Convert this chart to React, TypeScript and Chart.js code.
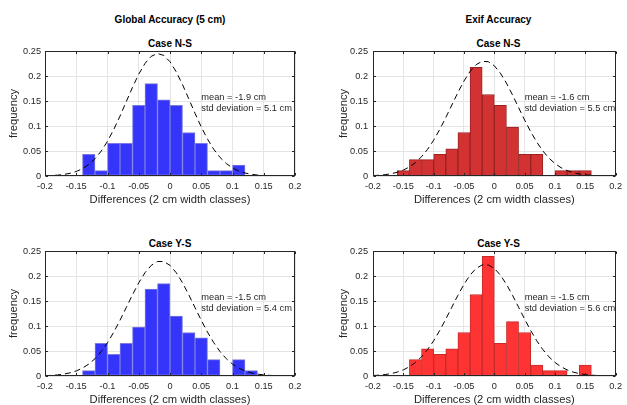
import React, { useEffect, useRef } from "react";
import { Chart, registerables } from "chart.js";

Chart.register(...registerables);

// ---------- data ----------
const binCenters = [
  -0.19, -0.17, -0.15, -0.13, -0.11, -0.09, -0.07, -0.05, -0.03, -0.01,
  0.01, 0.03, 0.05, 0.07, 0.09, 0.11, 0.13, 0.15, 0.17, 0.19,
];

const xTickValues = [-0.2, -0.15, -0.1, -0.05, 0, 0.05, 0.1, 0.15, 0.2];
const xTickLabels = ["-0.2", "-0.15", "-0.1", "-0.05", "0", "0.05", "0.1", "0.15", "0.2"];
const yTickValues = [0, 0.05, 0.1, 0.15, 0.2, 0.25];
const yTickLabels = ["0", "0.05", "0.1", "0.15", "0.2", "0.25"];

const globalNS = [0, 0, 0, 0.0435, 0.0109, 0.0652, 0.0652, 0.1413, 0.1848, 0.1522, 0.1413, 0.087, 0.0652, 0.0109, 0.0109, 0.0217, 0, 0, 0, 0];
const exifNS = [0, 0, 0.0109, 0.0326, 0.0326, 0.0435, 0.0543, 0.087, 0.2174, 0.163, 0.1413, 0.0978, 0.0435, 0.0435, 0, 0.0109, 0.0109, 0.0109, 0, 0];
const globalYS = [0, 0, 0, 0.0109, 0.0652, 0.0435, 0.0652, 0.0978, 0.1739, 0.1848, 0.1196, 0.087, 0.0761, 0.0326, 0, 0.0326, 0.0109, 0, 0, 0];
const exifYS = [0, 0, 0, 0.0326, 0.0543, 0.0435, 0.0543, 0.087, 0.163, 0.2391, 0.0652, 0.1087, 0.087, 0.0217, 0.0109, 0.0109, 0, 0.0217, 0, 0];

const curveX = [
  -0.2, -0.19, -0.18, -0.17, -0.16, -0.15, -0.14, -0.13, -0.12, -0.11, -0.1,
  -0.09, -0.08, -0.07, -0.06, -0.05, -0.04, -0.03, -0.02, -0.01, 0,
  0.01, 0.02, 0.03, 0.04, 0.05, 0.06, 0.07, 0.08, 0.09, 0.1,
  0.11, 0.12, 0.13, 0.14, 0.15, 0.16, 0.17, 0.18, 0.19, 0.2,
];
const curveGlobalNS = [0.0005, 0.0009, 0.0017, 0.0031, 0.0054, 0.009, 0.0147, 0.0229, 0.0345, 0.0499, 0.0694, 0.093, 0.1198, 0.1486, 0.1774, 0.2037, 0.2251, 0.2394, 0.245, 0.2412, 0.2286, 0.2084, 0.1829, 0.1544, 0.1255, 0.0981, 0.0738, 0.0534, 0.0372, 0.025, 0.0161, 0.01, 0.006, 0.0034, 0.0019, 0.001, 0.0005, 0.0003, 0.0001, 0.0001, 0.0];
const curveExifNS = [0.0009, 0.0015, 0.0027, 0.0046, 0.0075, 0.0118, 0.0181, 0.0268, 0.0385, 0.0534, 0.0716, 0.093, 0.1169, 0.142, 0.167, 0.19, 0.2091, 0.2227, 0.2294, 0.2286, 0.2205, 0.2057, 0.1857, 0.1621, 0.137, 0.112, 0.0886, 0.0677, 0.0501, 0.0359, 0.0249, 0.0167, 0.0108, 0.0068, 0.0041, 0.0024, 0.0014, 0.0008, 0.0004, 0.0002, 0.0001];
const curveGlobalYS = [0.0007, 0.0012, 0.0022, 0.0037, 0.0063, 0.0101, 0.0158, 0.0238, 0.0347, 0.0489, 0.0666, 0.0877, 0.1115, 0.1369, 0.1625, 0.1864, 0.2066, 0.2213, 0.229, 0.229, 0.2213, 0.2066, 0.1864, 0.1625, 0.1369, 0.1115, 0.0877, 0.0666, 0.0489, 0.0347, 0.0238, 0.0158, 0.0101, 0.0063, 0.0037, 0.0022, 0.0012, 0.0007, 0.0003, 0.0002, 0.0001];
const curveExifYS = [0.0009, 0.0017, 0.0029, 0.0048, 0.0078, 0.0122, 0.0185, 0.0271, 0.0384, 0.0529, 0.0705, 0.091, 0.1137, 0.1377, 0.1615, 0.1834, 0.2018, 0.2152, 0.2221, 0.2221, 0.2152, 0.2018, 0.1834, 0.1615, 0.1377, 0.1137, 0.091, 0.0705, 0.0529, 0.0384, 0.0271, 0.0185, 0.0122, 0.0078, 0.0048, 0.0029, 0.0017, 0.0009, 0.0005, 0.0003, 0.0001];

const superTitles = ["Global Accuracy (5 cm)", "Exif Accuracy"];
const caseTitles = ["Case N-S", "Case Y-S"];
const meanTexts = ["mean = -1.9 cm", "mean = -1.6 cm", "mean = -1.5 cm", "mean = -1.5 cm"];
const stdTexts = ["std deviation = 5.1 cm", "std deviation = 5.5 cm", "std deviation = 5.4 cm", "std deviation = 5.6 cm"];
const xAxisTitle = "Differences (2 cm width classes)";
const yAxisTitle = "frequency";

// ---------- styles ----------
const FONT = "'Liberation Sans', Arial, Helvetica, sans-serif";
const TEXT = "#262626";

const framePlugin = {
  id: "frameAndText",
  afterDatasetsDraw(chart: any, _args: any, opts: any) {
    const { ctx, chartArea: a, scales } = chart;
    const x = scales.x;
    const y = scales.y;
    ctx.save();
    ctx.strokeStyle = TEXT;
    ctx.lineWidth = 1;
    const L = Math.round(a.left) + 0.5;
    const R = Math.round(a.right) - 0.5;
    const T = Math.round(a.top) + 0.5;
    const B = Math.round(a.bottom) - 0.5;
    ctx.beginPath();
    const tl = 2.5;
    xTickValues.forEach((v) => {
      const px = Math.round(x.getPixelForValue(v)) + 0.5;
      ctx.moveTo(px, B);
      ctx.lineTo(px, B - tl);
      ctx.moveTo(px, T);
      ctx.lineTo(px, T + tl);
    });
    yTickValues.forEach((v) => {
      const py = Math.round(y.getPixelForValue(v)) + 0.5;
      ctx.moveTo(L, py);
      ctx.lineTo(L + tl, py);
      ctx.moveTo(R, py);
      ctx.lineTo(R - tl, py);
    });
    ctx.stroke();
    ctx.strokeRect(L, T, R - L, B - T);

    ctx.fillStyle = TEXT;
    ctx.font = `9.3px ${FONT}`;
    ctx.textAlign = "left";
    ctx.textBaseline = "middle";
    const tx = x.getPixelForValue(opts.textX);
    const ty = y.getPixelForValue(opts.textY);
    ctx.fillText(opts.mean, tx, ty - 5.5);
    ctx.fillText(opts.std, tx, ty + 5.5);
    ctx.restore();
  },
};

type PanelProps = {
  left: number;
  top: number;
  width: number;
  height: number;
  yAxisWidth: number;
  rightPad: number;
  yTitlePad: number;
  yTickPad: number;
  bars: number[];
  curve: number[];
  fill: string;
  edge: string;
  mean: string;
  std: string;
};

function Panel(p: PanelProps) {
  const ref = useRef<HTMLCanvasElement>(null);
  useEffect(() => {
    const chart = new Chart(ref.current as HTMLCanvasElement, {
      type: "bar",
      data: {
        datasets: [
          {
            type: "line",
            data: curveX.map((x, i) => ({ x, y: p.curve[i] })),
            borderColor: "#000000",
            borderWidth: 1,
            borderDash: [6, 4],
            pointRadius: 0,
            fill: false,
            tension: 0,
            order: 0,
          } as any,
          {
            type: "bar",
            data: binCenters.map((x, i) => ({ x, y: p.bars[i] === 0 ? null : p.bars[i] })),
            backgroundColor: p.fill,
            borderColor: p.edge,
            borderWidth: 1,
            borderSkipped: false,
            barPercentage: 1,
            categoryPercentage: 1,
            grouped: false,
            order: 1,
          } as any,
        ],
      },
      options: {
        responsive: false,
        animation: false,
        events: [],
        layout: {
          autoPadding: false,
          padding: { left: 0, right: p.rightPad, top: 51, bottom: 0 },
        },
        plugins: {
          legend: { display: false },
          tooltip: { enabled: false },
          frameAndText: { textX: 0.05, textY: 0.146, mean: p.mean, std: p.std },
        } as any,
        scales: {
          x: {
            type: "linear",
            min: -0.2,
            max: 0.2,
            offset: false,
            afterBuildTicks: (s: any) => {
              s.ticks = xTickValues.map((v) => ({ value: v }));
            },
            afterFit: (s: any) => {
              s.height = 31;
            },
            ticks: {
              autoSkip: false,
              maxRotation: 0,
              padding: 5,
              color: TEXT,
              font: { family: FONT, size: 9.2 },
              callback: (_v: any, i: number) => xTickLabels[i],
            },
            grid: { color: "#e4e4e4", drawTicks: false, offset: false },
            border: { display: false },
            title: {
              display: true,
              text: xAxisTitle,
              color: TEXT,
              font: { family: FONT, size: 11.2, lineHeight: 1 },
              padding: { top: 0, bottom: 1.5 },
            },
          },
          y: {
            type: "linear",
            min: 0,
            max: 0.25,
            afterBuildTicks: (s: any) => {
              s.ticks = yTickValues.map((v) => ({ value: v }));
            },
            afterFit: (s: any) => {
              s.width = p.yAxisWidth;
            },
            ticks: {
              autoSkip: false,
              padding: p.yTickPad,
              color: TEXT,
              font: { family: FONT, size: 9.2 },
              callback: (_v: any, i: number) => yTickLabels[i],
            },
            grid: { color: "#e4e4e4", drawTicks: false },
            border: { display: false },
            title: {
              display: true,
              text: yAxisTitle,
              color: TEXT,
              font: { family: FONT, size: 11.2, lineHeight: 1 },
              padding: { top: p.yTitlePad, bottom: 0 },
            },
          },
        },
      } as any,
      plugins: [framePlugin],
    });
    return () => chart.destroy();
  }, []);
  return (
    <canvas
      ref={ref}
      width={p.width}
      height={p.height}
      style={{ position: "absolute", left: p.left, top: p.top, width: p.width, height: p.height }}
    />
  );
}

function Title(props: { text: string; center: number; top: number }) {
  return (
    <div
      style={{
        position: "absolute",
        left: props.center - 100,
        width: 200,
        top: props.top,
        textAlign: "center",
        fontFamily: FONT,
        fontWeight: "bold",
        fontSize: 10,
        lineHeight: "12px",
        color: "#000",
        whiteSpace: "nowrap",
      }}
    >
      {props.text}
    </div>
  );
}

export default function App() {
  const blueFill = "#3434fb";
  const blueEdge = "#7a7ae0";
  const red1Fill = "#d23232";
  const red1Edge = "#9a2222";
  const red2Fill = "#fe3434";
  const red2Edge = "#c82a2a";
  return (
    <div
      style={{
        position: "fixed",
        left: 0,
        top: 0,
        width: 627,
        height: 405,
        overflow: "hidden",
        background: "#ffffff",
      }}
    >
      <Title text={superTitles[0]} center={170} top={13.5} />
      <Title text={superTitles[1]} center={498.5} top={13.5} />
      <Title text={caseTitles[0]} center={170} top={37.5} />
      <Title text={caseTitles[0]} center={498.5} top={37.5} />
      <Title text={caseTitles[1]} center={170} top={237.5} />
      <Title text={caseTitles[1]} center={498.5} top={237.5} />
      <Panel left={0} top={0} width={313} height={207} yAxisWidth={45} rightPad={18} yTitlePad={8.5} yTickPad={4}
        bars={globalNS} curve={curveGlobalNS} fill={blueFill} edge={blueEdge} mean={meanTexts[0]} std={stdTexts[0]} />
      <Panel left={313} top={0} width={314} height={207} yAxisWidth={60} rightPad={3} yTitlePad={25.5} yTickPad={5}
        bars={exifNS} curve={curveExifNS} fill={red1Fill} edge={red1Edge} mean={meanTexts[1]} std={stdTexts[1]} />
      <Panel left={0} top={200} width={313} height={207} yAxisWidth={45} rightPad={18} yTitlePad={8.5} yTickPad={4}
        bars={globalYS} curve={curveGlobalYS} fill={blueFill} edge={blueEdge} mean={meanTexts[2]} std={stdTexts[2]} />
      <Panel left={313} top={200} width={314} height={207} yAxisWidth={60} rightPad={3} yTitlePad={25.5} yTickPad={5}
        bars={exifYS} curve={curveExifYS} fill={red2Fill} edge={red2Edge} mean={meanTexts[3]} std={stdTexts[3]} />
    </div>
  );
}
